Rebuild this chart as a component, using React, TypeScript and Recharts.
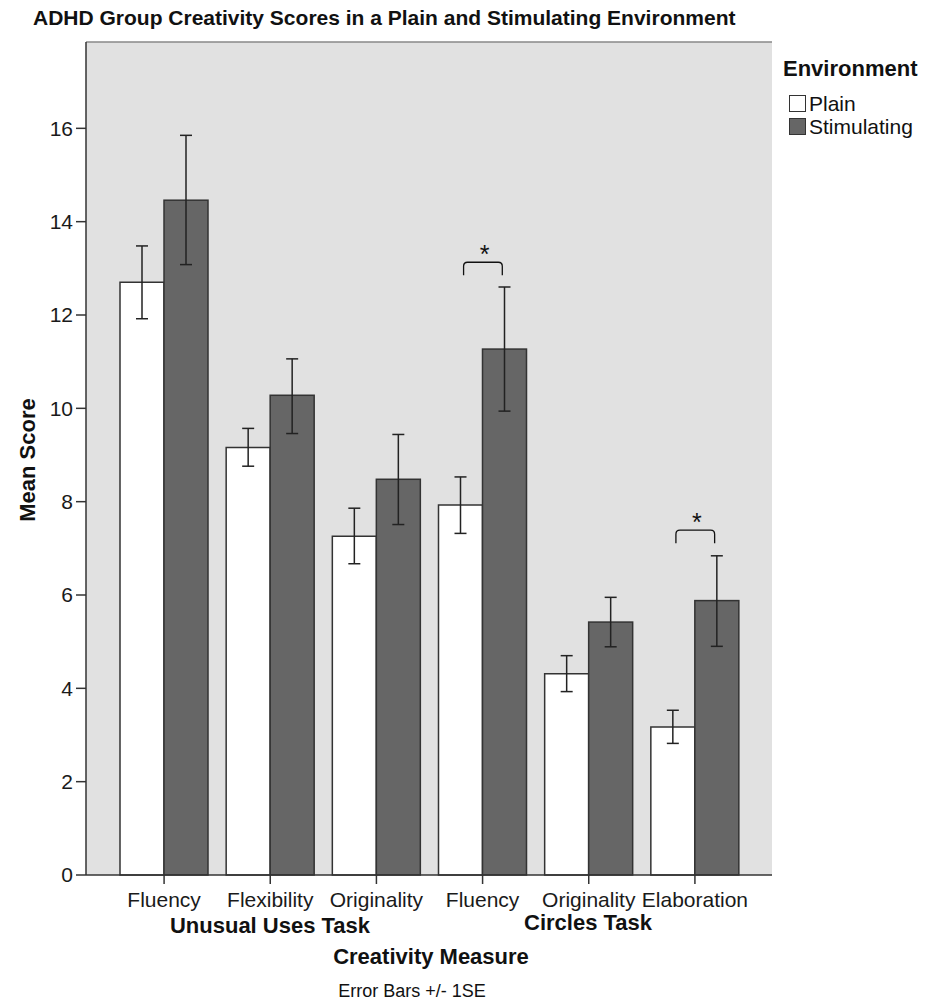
import { BarChart, Bar, XAxis, YAxis, ErrorBar, ReferenceLine, CartesianGrid, Legend } from 'recharts';

const FONT = "'Liberation Sans', Arial, sans-serif";

// カテゴリ（測定項目）
const measures = ['Fluency', 'Flexibility', 'Originality', 'Fluency', 'Originality', 'Elaboration'];
const tasks = ['Unusual Uses Task', 'Circles Task'];

// Plain 環境
const plainMean = [12.7, 9.16, 7.26, 7.93, 4.31, 3.17];
const plainLow = [11.92, 8.76, 6.67, 7.32, 3.93, 2.82];
const plainHigh = [13.48, 9.57, 7.86, 8.53, 4.7, 3.53];

// Stimulating 環境
const stimMean = [14.46, 10.28, 8.48, 11.27, 5.42, 5.88];
const stimLow = [13.08, 9.46, 7.51, 9.94, 4.89, 4.9];
const stimHigh = [15.85, 11.06, 9.44, 12.6, 5.95, 6.84];

// 有意差ブラケットの高さ（なし = null）
const sigLevel: (number | null)[] = [null, null, null, 13.13, null, 7.39];

const yTicks = [0, 2, 4, 6, 8, 10, 12, 14, 16];
const Y_MAX = 17.85;

const data = measures.map((m, i) => ({
  key: `m${i}`,
  label: m,
  plain: plainMean[i],
  plainErr: [plainMean[i] - plainLow[i], plainHigh[i] - plainMean[i]],
  stim: stimMean[i],
  stimErr: [stimMean[i] - stimLow[i], stimHigh[i] - stimMean[i]],
  sig: sigLevel[i],
}));

function StimShape(props: any) {
  const { x, y, width, height, payload } = props;
  const base = y + height;
  const perUnit = height / payload.stim; // バーの高さから縦スケールを求める
  let bracket = null;
  if (payload.sig != null) {
    const yB = base - payload.sig * perUnit;
    const yE = base - (payload.sig - 0.28) * perUnit;
    const x1 = x - width * 0.43;
    const x2 = x + width * 0.45;
    bracket = (
      <g>
        <path
          d={`M${x1},${yE} L${x1},${yB + 4} Q${x1},${yB} ${x1 + 4},${yB} L${x2 - 4},${yB} Q${x2},${yB} ${x2},${yB + 4} L${x2},${yE}`}
          fill="none"
          stroke="#111"
          strokeWidth={1.3}
        />
        <text x={x + 2} y={yB + 1} textAnchor="middle" fontSize={25} fontFamily={FONT} fill="#111">
          *
        </text>
      </g>
    );
  }
  return (
    <g>
      <rect x={x} y={y} width={width} height={height} fill="#666666" stroke="#333" strokeWidth={1.5} />
      {bracket}
    </g>
  );
}

function LegendBox() {
  const items = [
    { name: 'Plain', fill: '#ffffff' },
    { name: 'Stimulating', fill: '#666666' },
  ];
  return (
    <div style={{ fontFamily: FONT, color: '#111' }}>
      <div style={{ fontSize: 22, fontWeight: 'bold', lineHeight: 1, marginBottom: 12 }}>Environment</div>
      {items.map((it) => (
        <div key={it.name} style={{ display: 'flex', alignItems: 'center', height: 23, marginLeft: 6 }}>
          <div style={{ width: 15, height: 15, background: it.fill, border: '1.5px solid #333', marginRight: 3 }} />
          <span style={{ fontSize: 21, lineHeight: 1 }}>{it.name}</span>
        </div>
      ))}
    </div>
  );
}

const abs = (left: number, top: number, extra: any = {}) => ({
  position: 'absolute' as const,
  left,
  top,
  fontFamily: FONT,
  lineHeight: 1,
  color: '#111',
  whiteSpace: 'nowrap' as const,
  ...extra,
});

export default function App() {
  return (
    <div style={{ position: 'absolute', left: 0, top: 0, width: 934, height: 1005, background: '#fff' }}>
      <div style={abs(33, 7, { fontSize: 21, fontWeight: 'bold' })}>
        ADHD Group Creativity Scores in a Plain and Stimulating Environment
      </div>

      <BarChart
        width={934}
        height={1005}
        data={data}
        margin={{ top: 42, right: 162, bottom: 100, left: 0 }}
        barGap={0}
        barSize={44}
      >
        <CartesianGrid horizontal={false} vertical={false} fill="#e1e1e1" />
        <XAxis
          dataKey="key"
          interval={0}
          height={30}
          padding={{ left: 25, right: 24 }}
          tickFormatter={(_v: any, i: number) => measures[i]}
          tick={{ fontSize: 21, fill: '#1a1a1a', fontFamily: FONT }}
          tickSize={9}
          tickMargin={8}
          axisLine={{ stroke: '#333', strokeWidth: 1.5 }}
          tickLine={{ stroke: '#333', strokeWidth: 1.5 }}
        />
        <YAxis
          domain={[0, Y_MAX]}
          ticks={yTicks}
          width={86}
          tickSize={10}
          tickMargin={3}
          tick={{ fontSize: 21, fill: '#1a1a1a', fontFamily: FONT }}
          axisLine={{ stroke: '#333', strokeWidth: 1.5 }}
          tickLine={{ stroke: '#333', strokeWidth: 1.5 }}
        />
        <YAxis
          yAxisId="right"
          orientation="right"
          width={0}
          tick={false}
          tickLine={false}
          axisLine={{ stroke: '#777', strokeWidth: 1.5 }}
        />
        <ReferenceLine y={Y_MAX} stroke="#888" strokeWidth={1.5} />
        <Legend
          layout="vertical"
          align="center"
          verticalAlign="middle"
          content={() => <LegendBox />}
          wrapperStyle={{ position: 'absolute', left: 783, top: 58, width: 150 }}
        />
        <Bar dataKey="plain" name="Plain" fill="#ffffff" stroke="#333" strokeWidth={1.5} isAnimationActive={false}>
          <ErrorBar dataKey="plainErr" direction="y" width={6} stroke="#222" strokeWidth={1.5} />
        </Bar>
        <Bar dataKey="stim" name="Stimulating" fill="#666666" shape={StimShape} isAnimationActive={false}>
          <ErrorBar dataKey="stimErr" direction="y" width={6} stroke="#222" strokeWidth={1.5} />
        </Bar>
      </BarChart>

      <div style={abs(270, 915, { fontSize: 22, fontWeight: 'bold', transform: 'translateX(-50%)' })}>{tasks[0]}</div>
      <div style={abs(588, 912, { fontSize: 22, fontWeight: 'bold', transform: 'translateX(-50%)' })}>{tasks[1]}</div>
      <div style={abs(431, 946, { fontSize: 22, fontWeight: 'bold', transform: 'translateX(-50%)' })}>Creativity Measure</div>
      <div style={abs(412, 982, { fontSize: 18, transform: 'translateX(-50%)' })}>Error Bars +/- 1SE</div>
      <div
        style={abs(28, 460, {
          fontSize: 22,
          fontWeight: 'bold',
          transform: 'translate(-50%, -50%) rotate(-90deg)',
        })}
      >
        Mean Score
      </div>
    </div>
  );
}
